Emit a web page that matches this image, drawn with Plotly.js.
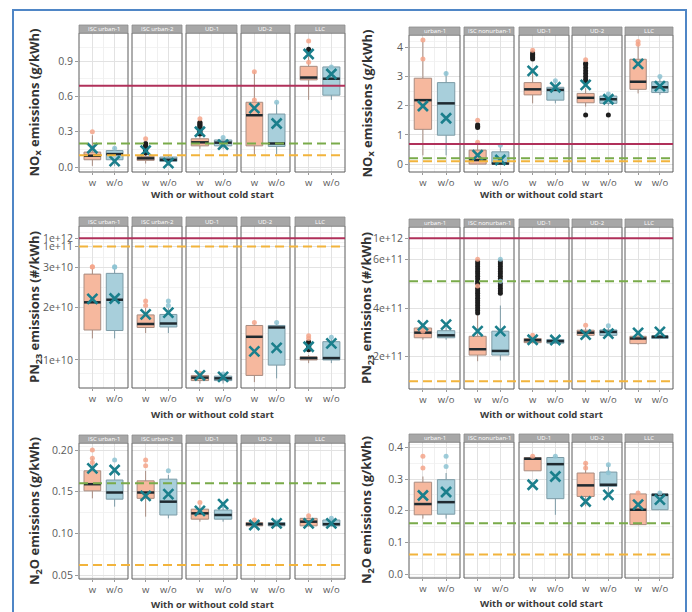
<!DOCTYPE html>
<html><head><meta charset="utf-8">
<script src="https://cdn.plot.ly/plotly-3.0.1.min.js"></script>
<style>html,body{margin:0;padding:0;background:#fff}#chart{width:692px;height:612px}</style>
</head><body><div id="chart"></div>
<script>
// ---------------- DATA ----------------
const GROUPS = ['w', 'w/o'];
const FACETS_LEFT = ['ISC urban-1', 'ISC urban-2', 'UD-1', 'UD-2', 'LLC'];
const FACETS_RIGHT = ['urban-1', 'ISC nonurban-1', 'UD-1', 'UD-2', 'LLC'];
// order in each array: facet1 w, facet1 w/o, facet2 w, facet2 w/o, ...

// NOx, left vehicle (g/kWh)
const NOXL_Q1   = [0.062, 0.062, 0.057, 0.048, 0.18, 0.18, 0.18, 0.175, 0.74, 0.61];
const NOXL_MED  = [0.096, 0.11, 0.074, 0.062, 0.21, 0.207, 0.44, 0.20, 0.76, 0.75];
const NOXL_Q3   = [0.127, 0.14, 0.09, 0.085, 0.24, 0.23, 0.55, 0.45, 0.855, 0.85];
const NOXL_LO   = [0.01, 0.01, 0.03, 0.01, 0.155, 0.155, 0.10, 0.11, 0.57, 0.57];
const NOXL_HI   = [0.27, 0.17, 0.11, 0.10, 0.27, 0.25, 0.81, 0.55, 0.95, 0.86];
const NOXL_MEAN = [0.16, 0.05, 0.14, 0.034, 0.30, 0.19, 0.50, 0.37, 0.96, 0.79];
const NOXL_OUT  = [[], [], [0.12,0.13,0.14,0.15,0.16,0.17,0.18,0.19,0.20], [], [0.28,0.29,0.30,0.31,0.32,0.33,0.34,0.35,0.36,0.37,0.38], [], [], [], [0.98,1.0], []];
const NOXL_PTS  = [[0.30,0.16], [0.16], [0.24], [], [0.41], [0.25], [0.81,0.57], [0.55], [1.07,0.89], [0.85]];

// NOx, right vehicle (g/kWh)
const NOXR_Q1   = [1.19, 0.99, 0.0, 0.0, 2.37, 2.19, 2.10, 2.08, 2.56, 2.45];
const NOXR_MED  = [2.19, 2.08, 0.14, 0.02, 2.56, 2.54, 2.27, 2.22, 2.82, 2.63];
const NOXR_Q3   = [2.94, 2.79, 0.48, 0.42, 2.79, 2.63, 2.42, 2.33, 3.59, 2.82];
const NOXR_LO   = [0.3, 0.3, 0.0, 0.0, 2.08, 2.08, 1.97, 2.0, 2.42, 2.37];
const NOXR_HI   = [4.2, 3.17, 0.75, 0.6, 3.28, 2.88, 2.6, 2.42, 4.14, 3.0];
const NOXR_MEAN = [1.99, 1.57, 0.31, 0.14, 3.19, 2.63, 2.71, 2.22, 3.43, 2.67];
const NOXR_OUT  = [[], [], [1.25,1.3,1.35], [], [3.6,3.65,3.7,3.75,3.8], [], [1.68,2.8,2.9,3.0,3.1,3.2,3.3,3.4,3.45], [1.68], [], []];
const NOXR_PTS  = [[4.25,3.6], [3.1], [1.5,0.75], [0.65], [3.9], [2.85], [3.57], [2.4], [4.2,4.1], [3.0]];

// PN23, left vehicle (#/kWh)
const PNL_Q1   = [1.53e10, 1.52e10, 1.58e10, 1.59e10, 0.70e10, 0.70e10, 0.77e10, 0.92e10, 1.00e10, 1.00e10];
const PNL_MED  = [2.12e10, 2.18e10, 1.65e10, 1.66e10, 0.74e10, 0.73e10, 1.40e10, 1.58e10, 1.03e10, 1.03e10];
const PNL_Q3   = [2.82e10, 2.84e10, 1.84e10, 1.85e10, 0.77e10, 0.76e10, 1.62e10, 1.62e10, 1.05e10, 1.31e10];
const PNL_LO   = [1.37e10, 1.37e10, 1.47e10, 1.47e10, 0.66e10, 0.66e10, 0.68e10, 0.73e10, 0.95e10, 0.95e10];
const PNL_HI   = [3.07e10, 3.10e10, 2.00e10, 2.00e10, 0.80e10, 0.80e10, 1.66e10, 1.66e10, 1.08e10, 1.36e10];
const PNL_MEAN = [2.20e10, 2.21e10, 1.85e10, 1.89e10, 0.77e10, 0.75e10, 1.14e10, 1.20e10, 1.22e10, 1.28e10];
const PNL_OUT  = [[], [], [], [], [], [], [], [], [1.17e10,1.19e10,1.21e10,1.23e10,1.25e10,1.27e10,1.29e10,1.31e10], []];
const PNL_PTS  = [[3.26e10,3.12e10], [3.26e10,3.10e10], [2.15e10,2.05e10], [2.15e10,2.05e10], [0.80e10], [0.79e10], [1.68e10], [1.68e10], [1.42e10,1.37e10], [1.39e10]];

// PN23, right vehicle (#/kWh)
const PNR_Q1   = [2.78e11, 2.78e11, 2.07e11, 2.07e11, 2.58e11, 2.56e11, 2.88e11, 2.88e11, 2.54e11, 2.75e11];
const PNR_MED  = [2.99e11, 2.88e11, 2.31e11, 2.24e11, 2.68e11, 2.64e11, 2.99e11, 3.02e11, 2.75e11, 2.82e11];
const PNR_Q3   = [3.18e11, 3.07e11, 2.84e11, 3.05e11, 2.75e11, 2.71e11, 3.09e11, 3.10e11, 2.84e11, 2.86e11];
const PNR_LO   = [2.70e11, 2.70e11, 1.82e11, 1.85e11, 2.55e11, 2.52e11, 2.85e11, 2.85e11, 2.50e11, 2.72e11];
const PNR_HI   = [3.30e11, 3.25e11, 3.70e11, 4.10e11, 2.85e11, 2.78e11, 3.20e11, 3.20e11, 2.90e11, 2.92e11];
const PNR_MEAN = [3.29e11, 3.32e11, 3.05e11, 3.05e11, 2.70e11, 2.69e11, 2.91e11, 2.95e11, 2.98e11, 3.02e11];
const PNR_OUT  = [[], [],
  [3.8e11,3.9e11,4.0e11,4.1e11,4.2e11,4.3e11,4.4e11,4.5e11,4.6e11,4.7e11,4.8e11,5.0e11,5.1e11,5.2e11,5.3e11,5.4e11,5.5e11,5.6e11,5.7e11,5.8e11,5.9e11],
  [4.6e11,4.7e11,4.8e11,4.9e11,5.0e11,5.2e11,5.3e11,5.4e11,5.5e11,5.6e11,5.7e11,5.8e11,5.9e11],
  [], [], [], [], [], []];
const PNR_PTS  = [[3.05e11], [], [6.0e11,4.9e11], [6.0e11,5.1e11], [2.88e11], [], [3.29e11], [3.27e11], [], []];

// N2O, left vehicle (g/kWh)
const N2OL_Q1   = [0.151, 0.141, 0.142, 0.122, 0.117, 0.117, 0.109, 0.109, 0.109, 0.109];
const N2OL_MED  = [0.159, 0.149, 0.149, 0.138, 0.124, 0.122, 0.111, 0.111, 0.114, 0.111];
const N2OL_Q3   = [0.175, 0.164, 0.163, 0.165, 0.129, 0.128, 0.113, 0.113, 0.118, 0.116];
const N2OL_LO   = [0.142, 0.132, 0.120, 0.118, 0.114, 0.114, 0.107, 0.108, 0.108, 0.108];
const N2OL_HI   = [0.190, 0.176, 0.175, 0.170, 0.134, 0.131, 0.115, 0.115, 0.120, 0.118];
const N2OL_MEAN = [0.178, 0.176, 0.145, 0.147, 0.127, 0.135, 0.110, 0.112, 0.112, 0.112];
const N2OL_OUT  = [[], [], [], [], [], [], [], [], [], []];
const N2OL_PTS  = [[0.200,0.190,0.185], [0.188], [0.188,0.181], [0.175], [0.137], [0.133], [0.116], [0.114], [0.121], [0.118]];

// N2O, right vehicle (g/kWh) – no data for ISC nonurban-1
const N2OR_Q1   = [0.187, 0.189, null, null, 0.326, 0.238, 0.245, 0.277, 0.156, 0.203];
const N2OR_MED  = [0.221, 0.227, null, null, 0.364, 0.347, 0.280, 0.282, 0.203, 0.250];
const N2OR_Q3   = [0.290, 0.298, null, null, 0.368, 0.368, 0.319, 0.322, 0.253, 0.253];
const N2OR_LO   = [0.175, 0.175, null, null, 0.326, 0.187, 0.214, 0.250, 0.156, 0.203];
const N2OR_HI   = [0.308, 0.319, null, null, 0.372, 0.372, 0.350, 0.345, 0.253, 0.256];
const N2OR_MEAN = [0.248, 0.259, null, null, 0.282, 0.308, 0.229, 0.250, 0.219, 0.235];
const N2OR_OUT  = [[], [], [], [], [], [], [], [], [], []];
const N2OR_PTS  = [[0.372,0.335], [0.372,0.340], [], [], [0.372], [0.372], [0.350,0.335], [0.345,0.320], [0.256], [0.256]];

// reference lines
const NOX_LIMITS  = {red: 0.69, green: 0.2, orange: 0.1};
const PNL_LIMITS  = {red: 1e12, green: null, orange: 1e11};
const PNR_LIMITS  = {red: 1e12, green: 5.1e11, orange: 1.0e11};
const N2O_LIMITS  = {red: null, green: 0.16, orange: 0.062};

// tick labels
const NOXL_TICKS = [0, 0.3, 0.6, 0.9];       const NOXL_TICKTEXT = ['0.0', '0.3', '0.6', '0.9'];
const NOXR_TICKS = [0, 1, 2, 3, 4];          const NOXR_TICKTEXT = ['0', '1', '2', '3', '4'];
const PNL_TICKS  = [1e10, 2e10, 3e10, 1e11, 1e12]; const PNL_TICKTEXT = ['1e+10', '2e+10', '3e+10', '1e+11', '1e+12'];
const PNR_TICKS  = [2e11, 4e11, 6e11, 1e12];  const PNR_TICKTEXT = ['2e+11', '4e+11', '6e+11', '1e+12'];
const N2OL_TICKS = [0.05, 0.10, 0.15, 0.20]; const N2OL_TICKTEXT = ['0.05', '0.10', '0.15', '0.20'];
const N2OR_TICKS = [0, 0.1, 0.2, 0.3, 0.4];  const N2OR_TICKTEXT = ['0.0', '0.1', '0.2', '0.3', '0.4'];

// ---------------- SCALES ----------------
const ident = v => v;
// PN (left): square-root scale up to 3e10, compressed break above
function tPNL(v) {
  if (v <= 3e10) return Math.sqrt(v / 1e10);
  if (v <= 1e11) return Math.sqrt(3) + (v - 3e10) / 7e10 * 0.165;
  return Math.sqrt(3) + 0.165 + (v - 1e11) / 9e11 * 0.066;
}
// PN (right): linear up to 6e11, compressed break above
function tPNR(v) {
  if (v <= 6e11) return v / 1e11;
  return 6 + (v - 6e11) / 4e11 * 0.857;
}

// ---------------- LAYOUT GEOMETRY ----------------
const W = 692, H = 612;
const FX_L = [[79,128],[132,182],[186,237],[241,290],[295,345]];
const FX_R = [[409,460],[464,514],[519,569],[572,622],[625,673]];

const panels = [
  {facets: FACETS_LEFT,  fx: FX_L, py: [33,172],  strip: 8, tf: ident, range: [-0.042,1.138], ticks: NOXL_TICKS, ticktext: NOXL_TICKTEXT,
   q1: NOXL_Q1, med: NOXL_MED, q3: NOXL_Q3, lo: NOXL_LO, hi: NOXL_HI, mean: NOXL_MEAN, out: NOXL_OUT, pts: NOXL_PTS, lim: NOX_LIMITS,
   title: 'NO<sub>x</sub> emissions (g/kWh)', tx: 35, xty: 194},
  {facets: FACETS_RIGHT, fx: FX_R, py: [35,172],  strip: 8, tf: ident, range: [-0.27,4.42], ticks: NOXR_TICKS, ticktext: NOXR_TICKTEXT,
   q1: NOXR_Q1, med: NOXR_MED, q3: NOXR_Q3, lo: NOXR_LO, hi: NOXR_HI, mean: NOXR_MEAN, out: NOXR_OUT, pts: NOXR_PTS, lim: NOX_LIMITS,
   title: 'NO<sub>x</sub> emissions (g/kWh)', tx: 367, xty: 194},
  {facets: FACETS_LEFT,  fx: FX_L, py: [226,388], strip: 9, tf: tPNL, range: [0.778,2.06], ticks: PNL_TICKS, ticktext: PNL_TICKTEXT,
   q1: PNL_Q1, med: PNL_MED, q3: PNL_Q3, lo: PNL_LO, hi: PNL_HI, mean: PNL_MEAN, out: PNL_OUT, pts: PNL_PTS, lim: PNL_LIMITS,
   title: 'PN<sub>23</sub> emissions (#/kWh)', tx: 35, xty: 414},
  {facets: FACETS_RIGHT, fx: FX_R, py: [227,389], strip: 8, tf: tPNR, range: [0.68,7.32], ticks: PNR_TICKS, ticktext: PNR_TICKTEXT,
   q1: PNR_Q1, med: PNR_MED, q3: PNR_Q3, lo: PNR_LO, hi: PNR_HI, mean: PNR_MEAN, out: PNR_OUT, pts: PNR_PTS, lim: PNR_LIMITS,
   title: 'PN<sub>23</sub> emissions (#/kWh)', tx: 367, xty: 414},
  {facets: FACETS_LEFT,  fx: FX_L, py: [443,579], strip: 8, tf: ident, range: [0.0452,0.2084], ticks: N2OL_TICKS, ticktext: N2OL_TICKTEXT,
   q1: N2OL_Q1, med: N2OL_MED, q3: N2OL_Q3, lo: N2OL_LO, hi: N2OL_HI, mean: N2OL_MEAN, out: N2OL_OUT, pts: N2OL_PTS, lim: N2O_LIMITS,
   title: 'N<sub>2</sub>O emissions (g/kWh)', tx: 35, xty: 604},
  {facets: FACETS_RIGHT, fx: FX_R, py: [442,578], strip: 8, tf: ident, range: [-0.0126,0.417], ticks: N2OR_TICKS, ticktext: N2OR_TICKTEXT,
   q1: N2OR_Q1, med: N2OR_MED, q3: N2OR_Q3, lo: N2OR_LO, hi: N2OR_HI, mean: N2OR_MEAN, out: N2OR_OUT, pts: N2OR_PTS, lim: N2O_LIMITS,
   title: 'N<sub>2</sub>O emissions (g/kWh)', tx: 367, xty: 603}
];

// ---------------- STYLE ----------------
const FONT = '"Open Sans", "DejaVu Sans", sans-serif';
const BOX_FILL = ['#f6b89e', '#a8cfdb'];
const BOX_LINE = ['#a88c80', '#7c9ba6'];
const PT_COL = ['#f5a48a', '#8dc3d2'];
const MED_COL = '#1f2a30';
const MEAN_COL = '#1b7f8c';
const LIM_COL = {red: '#b0305a', green: '#7aab4a', orange: '#f2b43c'};
const GRID = '#e2e2e2', GRID_MINOR = '#f0f0f0';

// ---------------- BUILD ----------------
const traces = [], shapes = [], annotations = [];
const layout = {
  width: W, height: H, margin: {l: 0, r: 0, t: 0, b: 0}, autosize: false,
  paper_bgcolor: '#fff', plot_bgcolor: '#fff', showlegend: false, boxmode: 'overlay',
  font: {family: FONT, color: '#444'}, shapes, annotations
};

function midpoints(arr) {
  const m = [];
  for (let i = 0; i < arr.length - 1; i++) m.push((arr[i] + arr[i + 1]) / 2);
  return m;
}

panels.forEach((P, p) => {
  const yId = 'y' + (p + 1);
  const yKey = 'yaxis' + (p + 1);
  const yd = [1 - P.py[1] / H, 1 - P.py[0] / H];
  const tv = P.ticks.map(P.tf);
  const mv = midpoints([P.range[0]].concat(tv).concat([P.range[1]])).filter(v => v > P.range[0] && v < P.range[1]);
  layout[yKey] = {
    domain: yd, anchor: 'x' + (p * 5 + 1), range: P.range, tickmode: 'array', tickvals: tv, ticktext: P.ticktext,
    showgrid: true, gridcolor: GRID, gridwidth: 1, zeroline: false, showline: false,
    ticks: 'outside', ticklen: 3, tickcolor: '#9a9a9a', tickfont: {size: 10.5, color: '#5a5a5a', family: FONT},
    minor: {tickmode: 'array', tickvals: mv, showgrid: true, gridcolor: GRID_MINOR, gridwidth: 0.8, ticks: ''}
  };
  P.facets.forEach((fname, f) => {
    const xn = p * 5 + f + 1;
    const xId = 'x' + xn;
    layout['xaxis' + xn] = {
      domain: [P.fx[f][0] / W, P.fx[f][1] / W], anchor: yId, range: [-0.6, 1.6],
      tickmode: 'array', tickvals: [0, 1], ticktext: GROUPS, showgrid: true, gridcolor: GRID, zeroline: false, showline: false,
      ticks: 'outside', ticklen: 2, tickcolor: '#9a9a9a', ticklabelstandoff: 0,
      tickfont: {size: 9.5, color: '#5a5a5a', family: FONT},
      minor: {tickmode: 'array', tickvals: [0.5], showgrid: true, gridcolor: GRID_MINOR, ticks: ''}
    };
    // empty trace to create subplot
    traces.push({type: 'scatter', x: [], y: [], xaxis: xId, yaxis: yId, hoverinfo: 'skip'});
    GROUPS.forEach((g, gi) => {
      const i = f * 2 + gi;
      if (P.q1[i] === null) return;
      traces.push({
        type: 'box', x: [gi], xaxis: xId, yaxis: yId,
        q1: [P.tf(P.q1[i])], median: [P.tf(P.med[i])], q3: [P.tf(P.q3[i])],
        lowerfence: [P.tf(P.lo[i])], upperfence: [P.tf(P.hi[i])],
        width: 0.75, whiskerwidth: 0, boxpoints: false, fillcolor: BOX_FILL[gi],
        line: {color: BOX_LINE[gi], width: 1}, hoverinfo: 'skip'
      });
      traces.push({
        type: 'scatter', mode: 'lines', xaxis: xId, yaxis: yId, hoverinfo: 'skip',
        x: [gi - 0.375, gi + 0.375], y: [P.tf(P.med[i]), P.tf(P.med[i])],
        line: {color: MED_COL, width: 2.5}
      });
    });
    GROUPS.forEach((g, gi) => {
      const i = f * 2 + gi;
      if (P.out[i].length) traces.push({
        type: 'scatter', mode: 'markers', xaxis: xId, yaxis: yId, hoverinfo: 'skip',
        x: P.out[i].map(() => gi), y: P.out[i].map(P.tf),
        marker: {color: '#1e1e1e', size: 5}
      });
      if (P.pts[i].length) traces.push({
        type: 'scatter', mode: 'markers', xaxis: xId, yaxis: yId, hoverinfo: 'skip',
        x: P.pts[i].map(() => gi), y: P.pts[i].map(P.tf),
        marker: {color: PT_COL[gi], size: 5, opacity: 0.85}
      });
    });
    GROUPS.forEach((g, gi) => {
      const i = f * 2 + gi;
      if (P.mean[i] === null) return;
      traces.push({
        type: 'scatter', mode: 'markers', xaxis: xId, yaxis: yId, hoverinfo: 'skip',
        x: [gi], y: [P.tf(P.mean[i])],
        marker: {symbol: 'x-thin-open', size: 10, color: MEAN_COL, line: {color: MEAN_COL, width: 2.6}}
      });
    });
    // facet border
    shapes.push({type: 'rect', xref: xId + ' domain', yref: yId + ' domain', x0: 0, x1: 1, y0: 0, y1: 1,
      line: {color: '#5c5c5c', width: 1}, layer: 'above'});
    // strip
    shapes.push({type: 'rect', xref: xId + ' domain', yref: 'paper', x0: 0, x1: 1,
      y0: 1 - P.py[0] / H, y1: 1 - (P.py[0] - P.strip) / H,
      fillcolor: '#a7a7a7', line: {color: '#8e8e8e', width: 0.8}, layer: 'above'});
    annotations.push({xref: xId + ' domain', yref: 'paper', x: 0.5, y: 1 - (P.py[0] - P.strip / 2) / H,
      text: fname, showarrow: false, font: {size: 6, color: '#ffffff', family: FONT}, xanchor: 'center', yanchor: 'middle'});
  });
  // reference lines (drawn over the boxes and grid, as in the original)
  ['red', 'green', 'orange'].forEach(k => {
    const v = P.lim[k];
    if (v === null || v === undefined) return;
    shapes.push({type: 'line', xref: 'paper', yref: yId, x0: P.fx[0][0] / W, x1: P.fx[4][1] / W,
      y0: P.tf(v), y1: P.tf(v), layer: 'above',
      line: {color: LIM_COL[k], width: 2, dash: k === 'red' ? 'solid' : '9px,5px'}});
  });
  // titles
  const cx = (P.fx[0][0] + P.fx[4][1]) / 2;
  annotations.push({xref: 'paper', yref: 'paper', x: cx / W, y: 1 - P.xty / H, text: 'With or without cold start',
    showarrow: false, font: {size: 9.5, color: '#3a3a3a', family: FONT, weight: 'bold'}, xanchor: 'center', yanchor: 'middle'});
  annotations.push({xref: 'paper', yref: 'paper', x: P.tx / W, y: 1 - (P.py[0] + P.py[1]) / 2 / H, text: P.title, textangle: -90,
    showarrow: false, font: {size: 13, color: '#333', family: FONT, weight: 'bold'}, xanchor: 'center', yanchor: 'middle'});
});

// outer frame
shapes.push({type: 'rect', xref: 'paper', yref: 'paper', x0: 13 / W, x1: 686 / W, y0: -0.05, y1: 1 - 10 / H,
  line: {color: '#4f86c6', width: 2}, layer: 'above'});

Plotly.newPlot('chart', traces, layout, {staticPlot: true, displayModeBar: false});
</script>
</body></html>
